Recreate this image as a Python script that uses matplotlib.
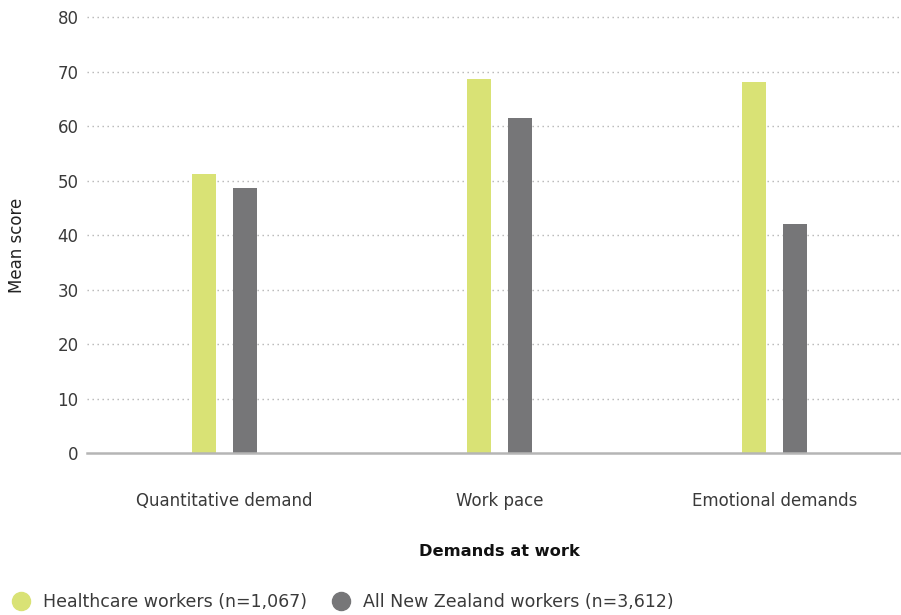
import matplotlib
matplotlib.use("Agg")
import matplotlib.pyplot as plt
from matplotlib.lines import Line2D
import numpy as np

plt.rcParams['font.family'] = ['DejaVu Sans']

categories = ["Quantitative demand", "Work pace", "Emotional demands"]
healthcare = [51.3, 68.6, 68.1]
all_nz = [48.6, 61.6, 42.0]
series_labels = ["Healthcare workers (n=1,067)", "All New Zealand workers (n=3,612)"]
yticks = [0, 10, 20, 30, 40, 50, 60, 70, 80]

c_hc = "#d9e275"
c_nz = "#767678"
text_c = "#3a3a3a"

W, H = 901, 615
fig = plt.figure(figsize=(W / 100, H / 100), dpi=100)
left, right = 87, 912
top, bottom = 17.3, 453.3
ax = fig.add_axes([left / W, (H - bottom) / H, (right - left) / W, (bottom - top) / H])

x = np.arange(len(categories))
bw = 0.084
off = 0.0745
ax.bar(x - off, healthcare, width=bw, color=c_hc, zorder=3)
ax.bar(x + off, all_nz, width=bw, color=c_nz, zorder=3)

ax.set_xlim(-0.5, 2.5)
ax.set_ylim(0, 80)
ax.set_yticks(yticks)
ax.set_xticks(x)
ax.set_xticklabels(categories)
ax.tick_params(axis='both', length=0, colors=text_c, labelsize=12)
ax.tick_params(axis='x', pad=28)
ax.tick_params(axis='y', pad=6)

for t in yticks[1:]:
    ax.axhline(t, color="#b4b4b4", lw=1.0, ls=(0, (1, 2.6)), zorder=1, clip_on=False)
ax.axhline(0, color="#b5b5b5", lw=1.8, zorder=4, clip_on=False)

for s in ax.spines.values():
    s.set_visible(False)

fig.text(17 / W, 1 - 245 / H, "Mean score", rotation=90, ha="center", va="center",
         fontsize=12, color="#222222")
fig.text(499 / W, 1 - 551 / H, "Demands at work", ha="center", va="center",
         fontsize=11.7, fontweight="bold", color="#111111")

handles = [Line2D([], [], marker='o', ls='none', markersize=13, color=c_hc),
           Line2D([], [], marker='o', ls='none', markersize=13, color=c_nz)]
fig.legend(handles, series_labels, loc="center left", bbox_to_anchor=(0.006, 1 - 602 / H),
           ncol=2, frameon=False, fontsize=12.5, labelcolor=text_c,
           handletextpad=0.75, columnspacing=1.5, handlelength=1.0, borderaxespad=0)

fig.savefig("out.png", dpi=100)
